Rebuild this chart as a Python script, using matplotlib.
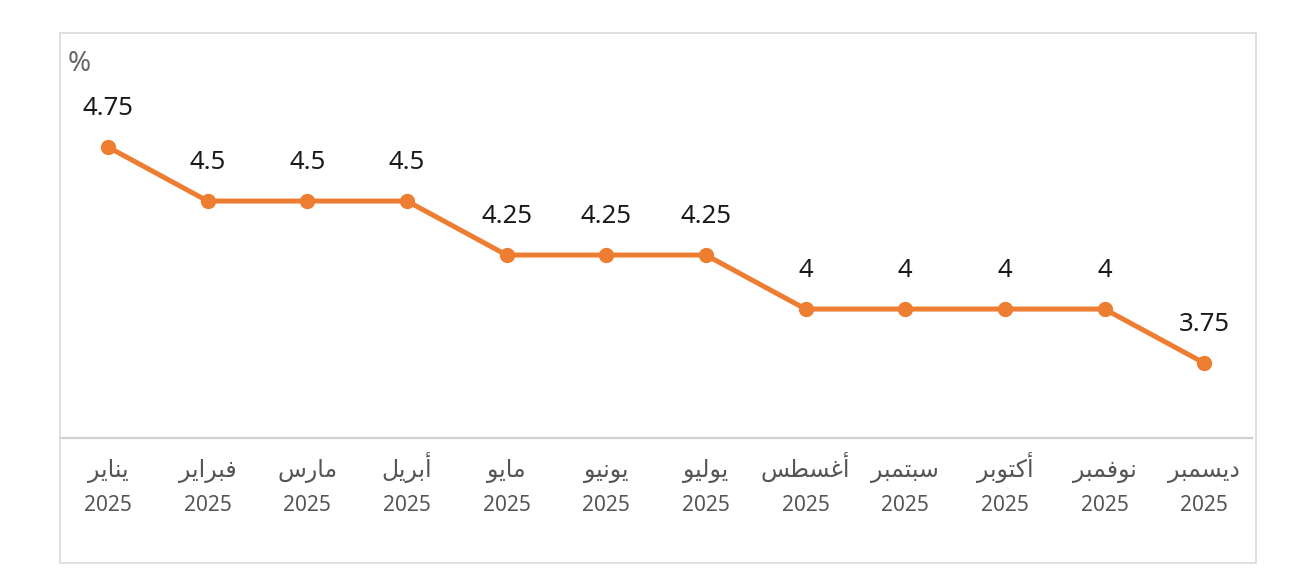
import matplotlib
matplotlib.use("Agg")
import matplotlib.pyplot as plt
from matplotlib.patches import Rectangle

plt.rcParams['font.family'] = ['Noto Sans', 'DejaVu Sans']

months = ["يناير", "فبراير", "مارس", "أبريل", "مايو", "يونيو",
          "يوليو", "أغسطس", "سبتمبر", "أكتوبر", "نوفمبر", "ديسمبر"]
year = "2025"
rates = [4.75, 4.5, 4.5, 4.5, 4.25, 4.25, 4.25, 4, 4, 4, 4, 3.75]

# presentation forms: isolated, final, initial, medial (right joiners only have 2)
forms = {
    "ا": "\uFE8D\uFE8E", "أ": "\uFE83\uFE84", "د": "\uFEA9\uFEAA",
    "ر": "\uFEAD\uFEAE", "و": "\uFEED\uFEEE",
    "ب": "\uFE8F\uFE90\uFE91\uFE92", "ت": "\uFE95\uFE96\uFE97\uFE98",
    "س": "\uFEB1\uFEB2\uFEB3\uFEB4", "ط": "\uFEC1\uFEC2\uFEC3\uFEC4",
    "غ": "\uFECD\uFECE\uFECF\uFED0", "ف": "\uFED1\uFED2\uFED3\uFED4",
    "ك": "\uFED9\uFEDA\uFEDB\uFEDC", "ل": "\uFEDD\uFEDE\uFEDF\uFEE0",
    "م": "\uFEE1\uFEE2\uFEE3\uFEE4", "ن": "\uFEE5\uFEE6\uFEE7\uFEE8",
    "ي": "\uFEF1\uFEF2\uFEF3\uFEF4",
}


def shape(word):
    # join letters and reverse for left-to-right drawing
    out = []
    for i, ch in enumerate(word):
        f = forms[ch]
        prev = i > 0 and len(forms[word[i - 1]]) == 4
        nxt = len(f) == 4 and i < len(word) - 1
        if prev and nxt:
            out.append(f[3])
        elif prev:
            out.append(f[1])
        elif nxt:
            out.append(f[2])
        else:
            out.append(f[0])
    return "".join(out)[::-1]


W, H = 1289, 576
fig = plt.figure(figsize=(W / 100, H / 100), dpi=100)

# outer frame
fig.patches.append(Rectangle((60 / W, 1 - 563 / H), 1196 / W, 530 / H,
                             transform=fig.transFigure, fill=False,
                             edgecolor="#d9d9d9", linewidth=1.2))

ax_top, ax_bot = 33, 438
ax = fig.add_axes([60 / W, 1 - ax_bot / H, 1192 / W, (ax_bot - ax_top) / H])
x = list(range(len(rates)))
ax.plot(x, rates, color="#ED7D31", linewidth=3.6, marker="o", markersize=10,
        solid_capstyle="round")
for xi, v in zip(x, rates):
    ax.annotate(f"{v:g}", (xi, v), xytext=(0, 23), textcoords="offset points",
                ha="center", va="baseline", fontsize=18.5, color="#1a1a1a")

ax.set_xlim(-0.482, 11.48)
ax.set_ylim(3.403, 5.278)
ax.set_yticks([])
ax.set_xticks([])


def fy(py):
    return (ax_bot - py) / (ax_bot - ax_top)


tr = ax.get_xaxis_transform()
for xi, m in zip(x, months):
    ax.text(xi, fy(477), shape(m), transform=tr, ha="center", va="baseline",
            fontsize=17, color="#555555", clip_on=False)
    ax.text(xi, fy(511), year, transform=tr, ha="center", va="baseline",
            fontsize=15, color="#555555", clip_on=False)

for s in ["top", "left", "right"]:
    ax.spines[s].set_visible(False)
ax.spines["bottom"].set_color("#d0d0d0")
ax.spines["bottom"].set_linewidth(1.6)

fig.text(68 / W, 1 - 71 / H, "%", fontsize=20, color="#666666", va="baseline", ha="left")

fig.savefig("out.png", dpi=100)
